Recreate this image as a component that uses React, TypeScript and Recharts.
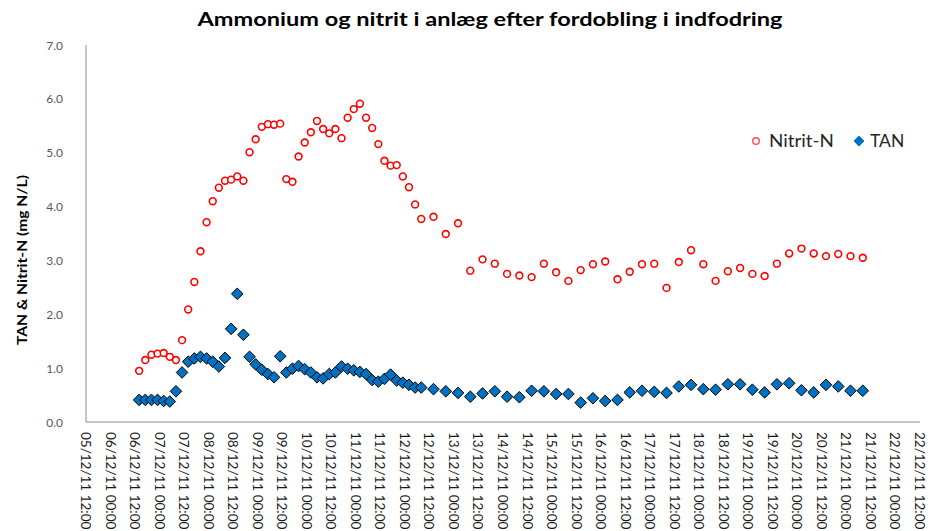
import { ScatterChart, Scatter, XAxis, YAxis } from 'recharts';

// 12-hour tick labels along the time axis (hours counted from 05/12/11 12:00)
const tickLabels = [
  '05/12/11 12:00', '06/12/11 00:00', '06/12/11 12:00', '07/12/11 00:00', '07/12/11 12:00',
  '08/12/11 00:00', '08/12/11 12:00', '09/12/11 00:00', '09/12/11 12:00', '10/12/11 00:00',
  '10/12/11 12:00', '11/12/11 00:00', '11/12/11 12:00', '12/12/11 00:00', '12/12/11 12:00',
  '13/12/11 00:00', '13/12/11 12:00', '14/12/11 00:00', '14/12/11 12:00', '15/12/11 00:00',
  '15/12/11 12:00', '16/12/11 00:00', '16/12/11 12:00', '17/12/11 00:00', '17/12/11 12:00',
  '18/12/11 00:00', '18/12/11 12:00', '19/12/11 00:00', '19/12/11 12:00', '20/12/11 00:00',
  '20/12/11 12:00', '21/12/11 00:00', '21/12/11 12:00', '22/12/11 00:00', '22/12/11 12:00',
];
const tickHours = tickLabels.map((_, i) => i * 12);
const yTicks = [0, 1, 2, 3, 4, 5, 6, 7];

// sampling times, hours after 05/12/11 12:00
const sampleHours = [
  26, 29, 32, 35, 38, 41, 44, 47, 50, 53,
  56, 59, 62, 65, 68, 71, 74, 77, 80, 83,
  86, 89, 92, 95, 98, 101, 104, 107, 110, 113,
  116, 119, 122, 125, 128, 131, 134, 137, 140, 143,
  146, 149, 152, 155, 158, 161, 164,
  170, 176, 182, 188, 194, 200, 206, 212, 218, 224,
  230, 236, 242, 248, 254, 260, 266, 272, 278, 284,
  290, 296, 302, 308, 314, 320, 326, 332, 338, 344,
  350, 356, 362, 368, 374, 380,
];

const nitritN = [
  0.95, 1.15, 1.25, 1.27, 1.28, 1.21, 1.15, 1.52, 2.09, 2.6,
  3.17, 3.71, 4.1, 4.35, 4.48, 4.5, 4.56, 4.48, 5.01, 5.25,
  5.48, 5.53, 5.52, 5.54, 4.51, 4.46, 4.93, 5.19, 5.38, 5.59,
  5.44, 5.36, 5.44, 5.27, 5.65, 5.81, 5.91, 5.65, 5.46, 5.16,
  4.85, 4.76, 4.77, 4.56, 4.36, 4.04, 3.77,
  3.81, 3.49, 3.69, 2.81, 3.02, 2.94, 2.75, 2.72, 2.69, 2.94,
  2.78, 2.62, 2.82, 2.93, 2.98, 2.65, 2.79, 2.93, 2.94, 2.49,
  2.97, 3.19, 2.93, 2.62, 2.8, 2.86, 2.75, 2.71, 2.94, 3.13,
  3.22, 3.13, 3.08, 3.12, 3.08, 3.05,
];

const tan = [
  0.41, 0.41, 0.41, 0.41, 0.39, 0.38, 0.57, 0.92, 1.12, 1.18,
  1.21, 1.18, 1.12, 1.03, 1.19, 1.73, 2.38, 1.62, 1.21, 1.07,
  0.97, 0.89, 0.83, 1.22, 0.92, 0.99, 1.04, 0.98, 0.92, 0.83,
  0.81, 0.89, 0.92, 1.03, 0.99, 0.96, 0.93, 0.89, 0.78, 0.75,
  0.8, 0.88, 0.77, 0.73, 0.69, 0.64, 0.64,
  0.61, 0.57, 0.54, 0.47, 0.53, 0.57, 0.47, 0.46, 0.58, 0.57,
  0.52, 0.52, 0.36, 0.44, 0.39, 0.41, 0.55, 0.58, 0.56, 0.54,
  0.66, 0.69, 0.61, 0.6, 0.7, 0.7, 0.6, 0.55, 0.7, 0.72,
  0.59, 0.55, 0.69, 0.66, 0.58, 0.58,
];

const nitritData = sampleHours.map((t, i) => ({ t, v: nitritN[i] }));
const tanData = sampleHours.map((t, i) => ({ t, v: tan[i] }));

const RED = '#ff0000';
const BLUE = '#0070c0';
const AXIS = '#8c8c8c';
const FONT = 'Lato, "Open Sans", sans-serif';

const RingMarker = (props: any) => (
  <circle cx={props.cx} cy={props.cy} r={3.4} fill="#fff" stroke={RED} strokeWidth={1.6} />
);

const DiamondMarker = (props: any) => {
  const { cx, cy } = props;
  const s = 5.8;
  return (
    <path
      d={`M${cx},${cy - s}L${cx + s},${cy}L${cx},${cy + s}L${cx - s},${cy}Z`}
      fill={BLUE}
      stroke="#000"
      strokeWidth={1}
    />
  );
};

const XTick = (props: any) => {
  const { x, y, payload } = props;
  const label = tickLabels[Math.round(payload.value / 12)];
  return (
    <text
      transform={`translate(${x},${y + 10}) rotate(90)`}
      textAnchor="start"
      dominantBaseline="central"
      fontFamily={FONT}
      fontSize={13.5}
      fill="#1a1a1a"
    >
      {label}
    </text>
  );
};

const YTick = (props: any) => {
  const { x, y, payload } = props;
  return (
    <text
      x={x - 23}
      y={y}
      textAnchor="end"
      dominantBaseline="central"
      fontFamily={FONT}
      fontSize={12}
      fill="#595959"
    >
      {payload.value.toFixed(1)}
    </text>
  );
};

export default function App() {
  return (
    <div style={{ position: 'absolute', left: 0, top: 0, width: 928, height: 531, background: '#fff' }}>
      <ScatterChart width={928} height={531} margin={{ top: 45, right: 8, bottom: 0, left: 0 }}>
        <XAxis
          type="number"
          dataKey="t"
          domain={[0, 408]}
          ticks={tickHours}
          interval={0}
          height={109}
          tickSize={0}
          tickMargin={0}
          tickLine={false}
          axisLine={{ stroke: AXIS }}
          tick={<XTick />}
          allowDataOverflow
        />
        <YAxis
          type="number"
          dataKey="v"
          domain={[0, 7]}
          ticks={yTicks}
          interval={0}
          width={86}
          tickSize={0}
          tickMargin={0}
          tickLine={false}
          axisLine={{ stroke: AXIS }}
          tick={<YTick />}
          allowDataOverflow
        />
        <Scatter name="Nitrit-N" data={nitritData} shape={RingMarker} isAnimationActive={false} />
        <Scatter name="TAN" data={tanData} shape={DiamondMarker} isAnimationActive={false} />
      </ScatterChart>

      <svg
        width={928}
        height={531}
        style={{ position: 'absolute', left: 0, top: 0, pointerEvents: 'none' }}
      >
        <text
          x={490}
          y={26}
          textAnchor="middle"
          fontFamily={FONT}
          fontWeight={700}
          fontSize={19.5}
          textLength={585}
          lengthAdjust="spacingAndGlyphs"
          fill="#000"
        >
          Ammonium og nitrit i anlæg efter fordobling i indfodring
        </text>
        <text
          transform="translate(21,260) rotate(-90)"
          textAnchor="middle"
          dominantBaseline="central"
          fontFamily={FONT}
          fontWeight={700}
          fontSize={14}
          textLength={170}
          lengthAdjust="spacingAndGlyphs"
          fill="#000"
        >
          TAN &amp; Nitrit-N (mg N/L)
        </text>
        <circle cx={756} cy={141} r={3.3} fill="#fff" stroke={RED} strokeWidth={1.4} opacity={0.7} />
        <text x={769} y={147} fontFamily={FONT} fontSize={17.5} textLength={65} lengthAdjust="spacingAndGlyphs" fill="#262626">
          Nitrit-N
        </text>
        <path d="M859,136.5L863.5,141L859,145.5L854.5,141Z" fill={BLUE} stroke={BLUE} strokeWidth={1.5} strokeLinejoin="round" />
        <text x={870} y={147} fontFamily={FONT} fontSize={17.5} fill="#262626">TAN</text>
      </svg>
    </div>
  );
}
